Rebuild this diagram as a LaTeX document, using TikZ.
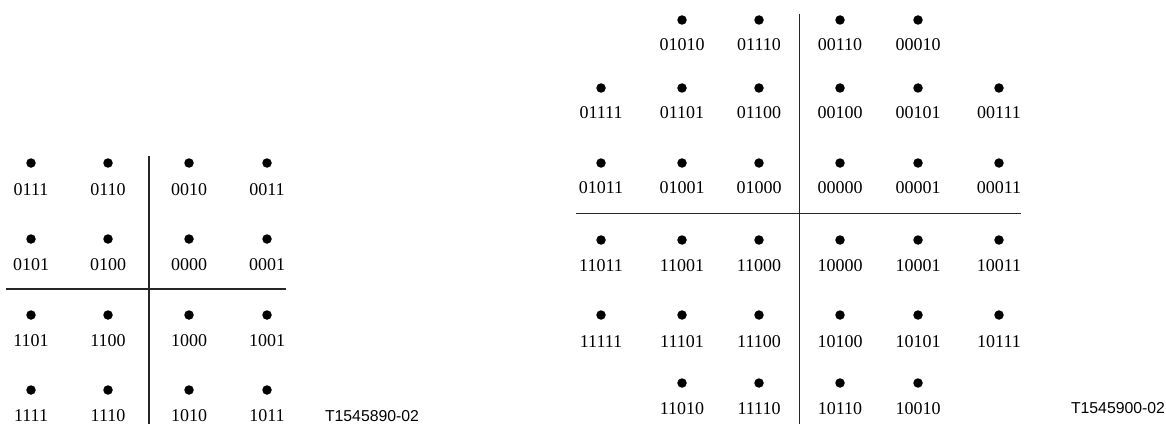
\documentclass[tikz,border=0pt]{standalone}
\usepackage{fontspec}
\setmainfont{Liberation Serif}
\newfontfamily\labelsans{Liberation Sans}
\begin{document}
\begin{tikzpicture}[x=1pt,y=-1pt,
  pt/.style={circle,fill=black,inner sep=0pt,minimum size=9.5pt},
  code/.style={inner sep=0pt,font=\fontsize{18}{20}\selectfont},
  fig/.style={inner sep=0pt,font=\labelsans\fontsize{15.8}{18}\selectfont},
  axis/.style={line width=1.1pt,black!85}]
\useasboundingbox (0,0) rectangle (1166,425);
% ---------- left constellation ----------
\foreach \r/\y/\ly/\labs in {1/163/190/{0111,0110,0010,0011},
                             2/239/265/{0101,0100,0000,0001},
                             3/315/341/{1101,1100,1000,1001},
                             4/390/416/{1111,1110,1010,1011}}{
  \foreach \x [count=\c] in {31,108,189,267}{
    \node[pt] (L\r\c) at (\x,\y) {};
  }
  \foreach \t [count=\c] in \labs{
    \pgfmathsetmacro{\xx}{{31,108,189,267}[\c-1]}
    \node[code] (Ll\r\c) at (\xx,\ly) {\t};
  }
}
\coordinate (Lvt) at (149,156);
\coordinate (Lvb) at (149,424);
\coordinate (Lhl) at (6,289);
\coordinate (Lhr) at (286,289);
\draw[axis] (Lvt) -- (Lvb);
\draw[axis] (Lhl) -- (Lhr);
\node[fig] (Lfig) at (372,416) {T1545890-02};
% ---------- right constellation ----------
\foreach \r/\y/\ly/\cs/\labs in {
   1/20/45/{2,3,4,5}/{01010,01110,00110,00010},
   2/88/113/{1,2,3,4,5,6}/{01111,01101,01100,00100,00101,00111},
   3/163/188/{1,2,3,4,5,6}/{01011,01001,01000,00000,00001,00011},
   4/240/266/{1,2,3,4,5,6}/{11011,11001,11000,10000,10001,10011},
   5/315/342/{1,2,3,4,5,6}/{11111,11101,11100,10100,10101,10111},
   6/383/409/{2,3,4,5}/{11010,11110,10110,10010}}{
  \foreach \c [count=\k] in \cs{
    \pgfmathsetmacro{\xx}{{601,682,759,840,918,999}[\c-1]}
    \node[pt] (R\r\c) at (\xx,\y) {};
  }
  \foreach \t [count=\k] in \labs{
    \pgfmathsetmacro{\cc}{{\cs}[\k-1]}
    \pgfmathsetmacro{\xx}{{601,682,759,840,918,999}[\cc-1]}
    \node[code] at (\xx,\ly) {\t};
  }
}
\coordinate (Rvt) at (799.5,14);
\coordinate (Rvb) at (799.5,424);
\coordinate (Rhl) at (576,213.5);
\coordinate (Rhr) at (1021,213.5);
\draw[axis] (Rvt) -- (Rvb);
\draw[axis] (Rhl) -- (Rhr);
\node[fig] (Rfig) at (1118,408) {T1545900-02};
\end{tikzpicture}
\end{document}
